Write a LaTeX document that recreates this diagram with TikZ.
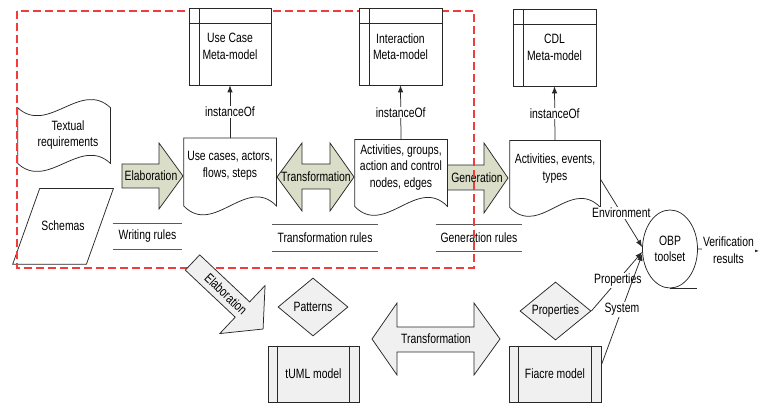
\documentclass[tikz,border=0pt]{standalone}
\usepackage{fontspec}
\setmainfont[FakeStretch=0.77]{Liberation Sans}
\usepackage{tikz}
\usetikzlibrary{calc,shapes.geometric,arrows.meta}

\definecolor{greenfill}{RGB}{218,222,200}
\definecolor{grayfill}{RGB}{240,240,240}
\definecolor{rulegray}{RGB}{90,90,90}
\definecolor{dashred}{RGB}{240,60,60}
\definecolor{edgegray}{RGB}{40,40,40}

% wavy document outline round a named node
\newcommand{\docoutline}[1]{%
  \draw [fill=white] (#1.south west) -- (#1.north west) -- (#1.north east) -- (#1.south east)
    .. controls +(-30,-31) and +(30,31) .. (#1.south west) -- cycle;}
% header lines of a meta-model box
\newcommand{\metalines}[1]{%
  \draw ($(#1.north west)+(11,0)$) -- ($(#1.south west)+(11,0)$);
  \draw ($(#1.north west)+(0,16)$) -- ($(#1.north east)+(0,16)$);}
% side lines of a model box
\newcommand{\modellines}[1]{%
  \draw ($(#1.north west)+(10,0)$) -- ($(#1.south west)+(10,0)$);
  \draw ($(#1.north east)+(-10,0)$) -- ($(#1.south east)+(-10,0)$);}
% bars over and under a rules label
\newcommand{\rulelines}[1]{%
  \draw [rulegray, line width=1.1pt] (#1.north west) -- (#1.north east);
  \draw [rulegray, line width=1.1pt] (#1.south west) -- (#1.south east);}

\begin{document}
\begin{tikzpicture}[x=1pt,y=1pt,yscale=-1,xscale=1,
  font=\fontsize{13.5}{16.5}\selectfont,
  line width=0.75pt, draw=edgegray,
  every node/.style={inner sep=0.75pt},
  metabox/.style={draw, fill=white, minimum width=82pt, minimum height=77pt, align=center},
  docbox/.style={minimum width=92pt, minimum height=67pt},
  blockgreen/.style={draw, fill=greenfill},
  blockgray/.style={draw, fill=grayfill},
  rulebar/.style={minimum height=26pt},
  modelbox/.style={draw, fill=grayfill, minimum width=92pt, minimum height=56pt},
  choice/.style={diamond, draw, fill=grayfill, minimum width=70pt, minimum height=58pt, aspect=1.2, inner sep=0pt},
  flow/.style={-{Latex[length=7pt,width=5.5pt]}},
  lbl/.style={fill=white, inner sep=1pt, align=center}]
\useasboundingbox (0,0) rectangle (761,403);

%Shape: Punched tape
\node (textreq) [minimum width=92pt, minimum height=55pt] at (64,135.5) {};
\draw [fill=white] (textreq.north west) .. controls +(30,28) and +(-30,-28) .. (textreq.north east)
  -- (textreq.south east) .. controls +(-30,-28) and +(30,28) .. (textreq.south west) -- cycle;
% Text Node
\node (textreqtext) [align=center] at (68,135) {Textual\\requirements};

%Shape: Parallelogram
\node (schemas) [minimum width=73pt, minimum height=75pt] at (63,226.5) {};
\draw [fill=white] ($(schemas.north west)+(13.5,0)$) -- ($(schemas.north east)+(13.5,0)$)
  -- ($(schemas.south east)+(-13.5,0)$) -- ($(schemas.south west)+(-13.5,0)$) -- cycle;
% Text Node
\node (schemastext) at (63,226) {Schemas};

%Shape: Block arrow right
\draw [blockgreen] (122,164) -- (159,164) -- (159,143) -- (183,176) -- (159,209) -- (159,188) -- (122,188) -- cycle;
\node (elabtext) at (151,176) {Elaboration};

%Shape: Block double arrow
\draw [blockgreen] (277,177) -- (302,143) -- (302,164) -- (330,164) -- (330,143) -- (354,177)
  -- (330,211) -- (330,189) -- (302,189) -- (302,211) -- cycle;
\node (transtext) at (316,177) {Transformation};

%Shape: Block arrow right
\draw [blockgreen] (447,165) -- (484,165) -- (484,143) -- (508,178) -- (484,213) -- (484,190) -- (447,190) -- cycle;
\node (gentext) at (477,178) {Generation};

%Shape: Documents
\node (ucdoc) [docbox] at (230,172) {};
\docoutline{ucdoc}
\node (uctext) [align=center] at (230,166) {Use cases, actors,\\flows, steps};
\node (intdoc) [docbox, minimum height=66pt] at (401,173) {};
\docoutline{intdoc}
\node (inttext) [align=center] at (401,167.5) {Activities, groups,\\action and control\\nodes, edges};
\node (cdldoc) [docbox, minimum width=90pt, minimum height=66pt] at (555,174) {};
\docoutline{cdldoc}
\node (cdltext) [align=center] at (555,168.5) {Activities, events,\\types};

% Rules labels
\node (writerules) [rulebar, minimum width=69pt] at (147.5,236.5) {Writing rules};
\rulelines{writerules}
\node (transrules) [rulebar, minimum width=106pt] at (325,238) {Transformation rules};
\rulelines{transrules}
\node (genrules) [rulebar, minimum width=86pt] at (479,238) {Generation rules};
\rulelines{genrules}

%Shape: Rectangle dashed
\draw [dashred, line width=1.2pt, dash pattern=on 8pt off 4pt] (17,11) rectangle (474,268);

%Shape: Meta-model boxes
\node (ucmeta) [metabox] at (230,46.5) {Use Case\\Meta-model};
\metalines{ucmeta}
\node (intmeta) [metabox, minimum width=83pt] at (400.5,46.5) {Interaction\\Meta-model};
\metalines{intmeta}
\node (cdlmeta) [metabox, minimum width=83pt] at (554.5,47.5) {CDL\\Meta-model};
\metalines{cdlmeta}

%Shape: Block arrow diagonal
\begin{scope}[shift={(192.5,262.5)}, rotate=43.3]
\draw [blockgray] (0,-10.5) -- (68.6,-10.5) -- (68.6,-33) -- (97,0) -- (68.6,33) -- (68.6,10.5) -- (0,10.5) -- cycle;
\node (elabdiag) [rotate=-43.3] at (46,0) {Elaboration};
\end{scope}

%Shape: Block double arrow
\draw [blockgray] (372,339) -- (397,303) -- (397,327) -- (474,327) -- (474,303) -- (500,339)
  -- (474,375) -- (474,352) -- (397,352) -- (397,375) -- cycle;
\node (transbottom) at (436,339) {Transformation};

%Shape: Diamonds
\node (patterns) [choice] at (313,307) {Patterns};
\node (props) [choice, minimum width=71pt] at (555.5,311) {Properties};

%Shape: Model boxes
\node (tuml) [modelbox, minimum width=91pt] at (313.5,374) {tUML model};
\modellines{tuml}
\node (fiacre) [modelbox] at (555,374) {Fiacre model};
\modellines{fiacre}

%Shape: Ellipse
\node (obp) [ellipse, draw, fill=white, minimum width=55pt, minimum height=78pt, align=center] at (670,249) {OBP\\toolset};
\draw (obp.south) -- ++(27,0);
\coordinate (vrend) at (759,251);

% Connectors
\draw [flow] (ucdoc.north) -- node [lbl] {instanceOf} (ucmeta.south);
\draw [flow] (intdoc.north) -- node [lbl] {instanceOf} (intmeta.south);
\draw [flow] (cdldoc.north) -- node [lbl] {instanceOf} (cdlmeta.south);
\draw [flow] ($(cdldoc.east)+(0,5)$) -- node [lbl] {Environment} (obp.176);
\draw [flow] (props.east) -- node [lbl, pos=0.52] {Properties} (obp.186);
\draw [flow] ($(fiacre.east)+(0,-9)$) -- node [lbl] {System} (obp.190);
\draw [flow] (obp.east) -- node [lbl] {Verification\\results} (vrend);

\end{tikzpicture}
\end{document}
